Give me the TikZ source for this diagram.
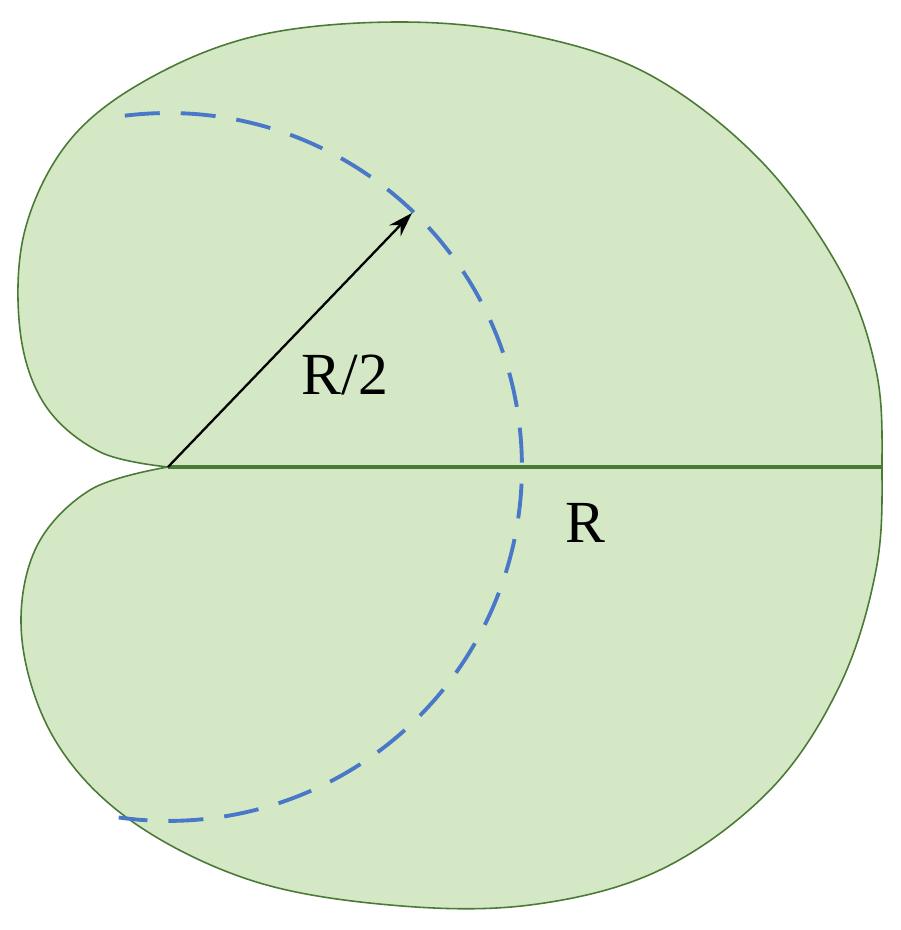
\documentclass[tikz,border=0pt]{standalone}
\usepackage{fontspec}
\setmainfont{Liberation Serif}
\usetikzlibrary{arrows.meta}
\definecolor{fillg}{HTML}{D5E8C5}
\definecolor{lineg}{HTML}{4A7A35}
\definecolor{dashb}{HTML}{4A78C8}
\tikzset{leafshape/.style={fill=fillg,draw=lineg,line width=0.9pt},
 axisline/.style={draw=lineg,line width=1.8pt},
 dcirc/.style={draw=dashb,line width=2.2pt,dash pattern=on 0.7cm off 0.42cm},
 lab/.style={font=\fontsize{34}{40}\selectfont}}
\begin{document}
\begin{tikzpicture}[x=0.02cm,y=0.02cm]
\useasboundingbox (0,0) rectangle (900,930);
\path[leafshape] plot[smooth,tension=0.6] coordinates {(168,463) (100,478) (45,525) (20,600) (25,700) (70,790) (150,852) (260,895) (400,908) (530,895) (650,855) (760,770) (840,660) (876,560) (882,463) (876,360) (840,245) (770,140) (660,60) (530,25) (390,25) (250,50) (130,110) (55,190) (22,290) (35,380) (90,440) (168,463)};
\coordinate (c) at (168,463);
\coordinate (e) at (882,463);
\coordinate (a) at (412,717);
\draw[axisline] (c) -- (e);
\draw[dcirc] (c) ++(97:7.08cm) arc[start angle=97,end angle=-98,radius=7.08cm];
\draw[line width=1.3pt,-{Stealth[length=14pt,width=9pt]}] (c) -- (a);
\node[lab] (l1) at (345,555) {R/2};
\node[lab] (l2) at (585,407) {R};
\end{tikzpicture}
\end{document}
